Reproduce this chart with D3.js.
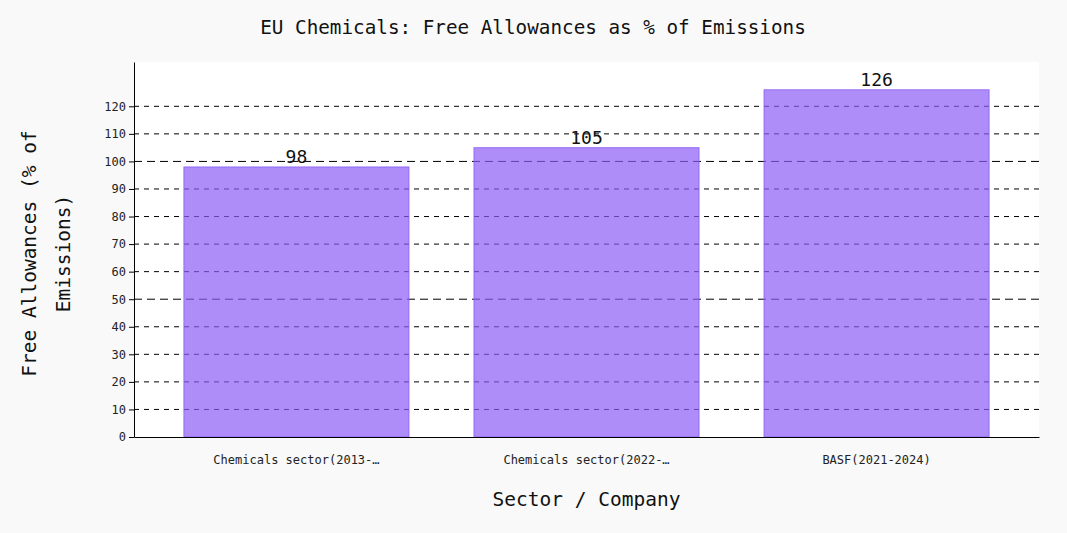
<!DOCTYPE html>
<html>
<head>
<meta charset="utf-8">
<script src="https://cdn.jsdelivr.net/npm/d3@7/dist/d3.min.js"></script>
<style>
  body { margin: 0; background: #f9f9f9; }
  svg { display: block; font-family: "DejaVu Sans Mono", monospace; }
</style>
</head>
<body>
<script>
// data
const categories = ["Chemicals sector(2013-2020)", "Chemicals sector(2022-2023)", "BASF(2021-2024)"];
const values = [98, 105, 126];
const yTicks = [0, 10, 20, 30, 40, 50, 60, 70, 80, 90, 100, 110, 120];

const width = 1067, height = 533;
const margin = {top: 62, right: 28, bottom: 96, left: 134};
const innerW = width - margin.left - margin.right;
const innerH = height - margin.top - margin.bottom;

const svg = d3.select("body").append("svg")
    .attr("width", width)
    .attr("height", height);

svg.append("rect")
    .attr("width", width).attr("height", height)
    .attr("fill", "#f9f9f9");

const g = svg.append("g")
    .attr("transform", `translate(${margin.left},${margin.top})`);

// plot background
g.append("rect")
    .attr("width", innerW).attr("height", innerH)
    .attr("fill", "#fff");

const x = d3.scaleBand()
    .domain(categories)
    .range([0, innerW])
    .paddingInner(0.224)
    .paddingOuter(0.172);

const y = d3.scaleLinear()
    .domain([0, d3.max(values) * 1.08])
    .range([innerH, 0]);

// grid
g.selectAll(".grid")
    .data(yTicks.filter(t => t > 0))
    .enter().append("line")
    .attr("class", "grid")
    .attr("x1", 0).attr("x2", innerW)
    .attr("y1", d => y(d)).attr("y2", d => y(d))
    .attr("stroke", "#000")
    .attr("stroke-width", 1)
    .attr("stroke-dasharray", d => d % 50 === 0 ? "8,5" : "5,5");

// bars
g.selectAll(".bar")
    .data(values)
    .enter().append("rect")
    .attr("class", "bar")
    .attr("x", (d, i) => x(categories[i]))
    .attr("y", d => y(d))
    .attr("width", x.bandwidth())
    .attr("height", d => innerH - y(d))
    .attr("fill", "#8b5cf6")
    .attr("fill-opacity", 0.7)
    .attr("stroke", "#8b5cf6")
    .attr("stroke-opacity", 0.8)
    .attr("stroke-width", 1);

// value labels
g.selectAll(".val")
    .data(values)
    .enter().append("text")
    .attr("class", "val")
    .attr("x", (d, i) => x(categories[i]) + x.bandwidth() / 2)
    .attr("y", d => y(d) - 4)
    .attr("text-anchor", "middle")
    .style("font-size", "18px")
    .style("fill", "#111")
    .text(d => d);

// axes
const yAxis = g.append("g")
    .call(d3.axisLeft(y).tickValues(yTicks).tickSizeInner(5).tickSizeOuter(0).tickPadding(3));
yAxis.select(".domain").attr("stroke", "#000");
yAxis.selectAll("text").style("font-size", "12px").style("fill", "#222")
    .style("font-family", "DejaVu Sans Mono, monospace");

const trunc = s => s.length > 22 ? s.slice(0, 22) + "…" : s;
const xAxis = g.append("g")
    .attr("transform", `translate(0,${innerH})`)
    .call(d3.axisBottom(x).tickSize(0).tickPadding(18).tickFormat(trunc));
xAxis.select(".domain").attr("stroke", "#000");
xAxis.selectAll("text").style("font-size", "12px").style("fill", "#222")
    .style("font-family", "DejaVu Sans Mono, monospace");

// title
svg.append("text")
    .attr("x", 533)
    .attr("y", 34)
    .attr("text-anchor", "middle")
    .style("font-size", "19.3px")
    .style("fill", "#111")
    .text("EU Chemicals: Free Allowances as % of Emissions");

// axis titles
svg.append("text")
    .attr("x", margin.left + innerW / 2 + 0)
    .attr("y", 506)
    .attr("text-anchor", "middle")
    .style("font-size", "19.5px")
    .style("fill", "#111")
    .text("Sector / Company");

const yt = svg.append("text")
    .attr("transform", `translate(36,${margin.top + innerH / 2 + 4}) rotate(-90)`)
    .attr("text-anchor", "middle")
    .style("font-size", "19.5px")
    .style("fill", "#111");
yt.append("tspan").attr("x", 0).attr("dy", 0).text("Free Allowances (% of");
yt.append("tspan").attr("x", 0).attr("dy", 34).text("Emissions)");
</script>
</body>
</html>
